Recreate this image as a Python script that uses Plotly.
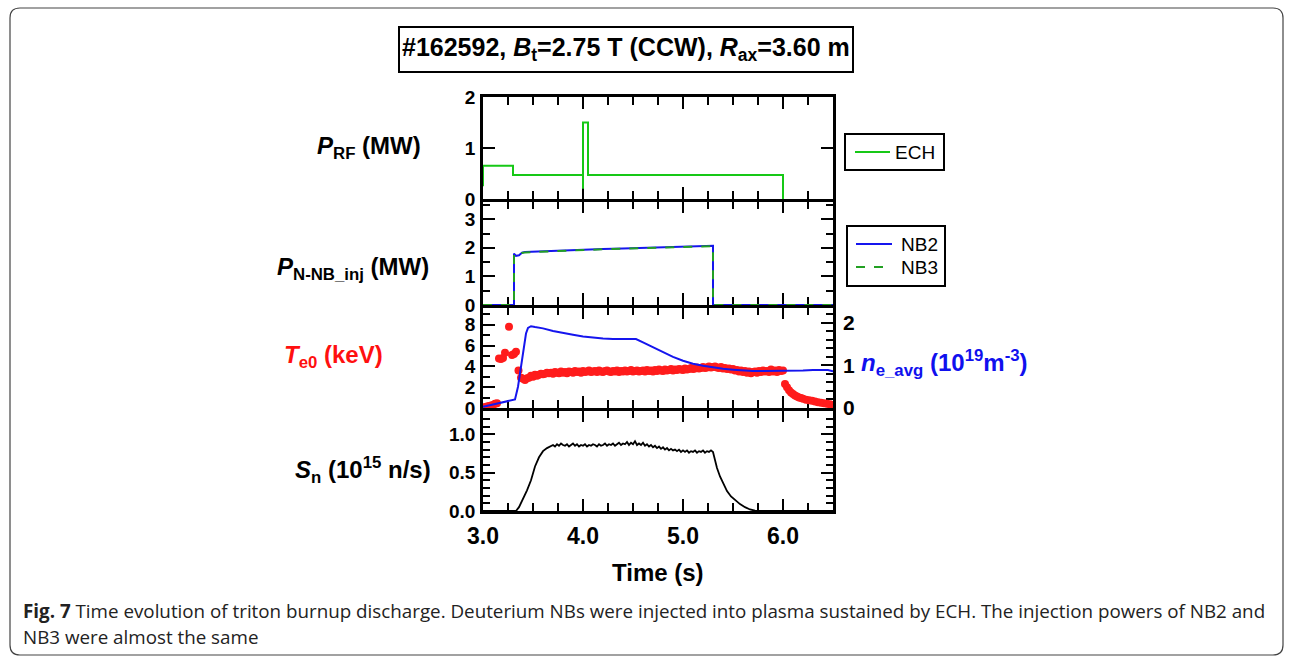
import plotly.graph_objects as go

W, H = 1290, 658
FONT = "Liberation Sans, Arial, sans-serif"

# ---------------- data ----------------
ech_t = [3.0, 3.0, 3.3, 3.3, 4.0, 4.0, 4.0, 4.05, 4.05, 6.0, 6.0]
ech_p = [0.25, 0.65, 0.65, 0.47, 0.47, 0.2, 1.5, 1.5, 0.47, 0.47, 0.0]

nb_t = [3.0, 3.31, 3.31, 3.33, 3.36, 3.39, 3.42, 3.6, 3.8, 4.0, 4.2, 4.4, 4.6, 4.8, 5.0, 5.2, 5.3, 5.3, 6.5]
nb2_p = [0, 0, 1.80, 1.72, 1.74, 1.83, 1.85, 1.88, 1.91, 1.94, 1.96, 1.98, 2.00, 2.02, 2.04, 2.06, 2.07, 0, 0]
nb3_p = [0, 0, 1.75, 1.70, 1.73, 1.82, 1.84, 1.87, 1.90, 1.93, 1.95, 1.97, 1.99, 2.01, 2.03, 2.05, 2.06, 0, 0]

te_t_early = [3.00, 3.02, 3.04, 3.06, 3.08, 3.10, 3.12, 3.14, 3.16, 3.18, 3.20, 3.22, 3.26,
              3.29, 3.31, 3.33, 3.355, 3.38, 3.40, 3.42, 3.44, 3.46]
te_early = [0.0, 0.1, 0.15, 0.2, 0.25, 0.3, 0.4, 0.45, 4.75, 4.7, 4.8, 5.3, 7.8,
            5.1, 5.2, 5.4, 3.6, 2.9, 2.8, 2.7, 2.85, 2.9]
# 3.48 .. 6.00 every 0.02 s
te_mid = [3.1, 3.0, 3.2, 3.1, 3.2, 3.3, 3.25, 3.3, 3.4, 3.35, 3.4, 3.3, 3.45, 3.4, 3.35, 3.5,
          3.4, 3.45, 3.35, 3.5, 3.45, 3.4, 3.55, 3.45, 3.5, 3.4, 3.55, 3.45, 3.5, 3.6, 3.45, 3.5,
          3.55, 3.45, 3.6, 3.5, 3.45, 3.55, 3.6, 3.5, 3.45, 3.55, 3.5, 3.6, 3.45, 3.55, 3.5, 3.6,
          3.5, 3.55, 3.65, 3.5, 3.55, 3.6, 3.5, 3.55, 3.6, 3.5, 3.65, 3.55, 3.6, 3.5, 3.65, 3.55,
          3.7, 3.6, 3.55, 3.7, 3.6, 3.65, 3.75, 3.6, 3.7, 3.65, 3.75, 3.7, 3.65, 3.8, 3.7, 3.75,
          3.85, 3.75, 3.8, 3.9, 3.8, 3.85, 3.95, 3.85, 3.9, 4.0, 3.9, 3.95, 4.0, 3.9, 3.85, 3.95,
          3.8, 3.85, 3.75, 3.8, 3.7, 3.75, 3.6, 3.65, 3.5, 3.6, 3.45, 3.55, 3.4, 3.5, 3.35, 3.45,
          3.5, 3.4, 3.55, 3.45, 3.6, 3.5, 3.55, 3.45, 3.7, 3.5, 3.6, 3.45, 3.65, 3.55, 3.6]
te_t_mid = [round(3.48 + 0.02 * i, 2) for i in range(len(te_mid))]
te_t_late = [6.02, 6.04, 6.06, 6.08, 6.10, 6.12, 6.14, 6.16, 6.18, 6.20, 6.23, 6.26, 6.29,
             6.32, 6.35, 6.38, 6.41, 6.44, 6.47, 6.50]
te_late = [2.3, 2.0, 1.7, 1.5, 1.35, 1.2, 1.1, 1.0, 0.95, 0.9, 0.8, 0.75, 0.7,
           0.62, 0.55, 0.5, 0.45, 0.4, 0.35, 0.3]
te_t = te_t_early + te_t_mid + te_t_late
te_v = te_early + te_mid + te_late

ne_t = [3.0, 3.1, 3.2, 3.3, 3.32, 3.35, 3.38, 3.41, 3.43, 3.45, 3.48, 3.52, 3.56, 3.6, 3.7, 3.8,
        3.9, 4.0, 4.1, 4.2, 4.3, 4.4, 4.5, 4.53, 4.6, 4.7, 4.8, 4.9, 5.0, 5.1, 5.2, 5.3, 5.4,
        5.5, 5.6, 5.7, 5.8, 5.9, 6.0, 6.1, 6.2, 6.3, 6.4, 6.45, 6.5]
ne_v = [0.03, 0.08, 0.13, 0.18, 0.2, 0.5, 0.95, 1.45, 1.75, 1.88, 1.92, 1.9, 1.89, 1.87, 1.81,
        1.76, 1.72, 1.68, 1.65, 1.63, 1.62, 1.62, 1.63, 1.62, 1.54, 1.43, 1.32, 1.2, 1.11, 1.04,
        0.99, 0.95, 0.92, 0.9, 0.88, 0.87, 0.87, 0.87, 0.87, 0.87, 0.88, 0.89, 0.9, 0.89, 0.86]

sn_t_rise = [3.0, 3.33, 3.36, 3.40, 3.44, 3.48, 3.52, 3.56, 3.60, 3.64, 3.68]
sn_rise = [0.0, 0.0, 0.05, 0.15, 0.27, 0.4, 0.58, 0.7, 0.78, 0.82, 0.85]
# 3.70 .. 5.30 every 0.02 s
sn_flat = [0.86, 0.84, 0.87, 0.85, 0.88, 0.86, 0.85, 0.87, 0.84, 0.86, 0.88, 0.85, 0.87, 0.84,
           0.86, 0.85, 0.87, 0.84, 0.86, 0.85, 0.87, 0.86, 0.84, 0.87, 0.85, 0.86, 0.88, 0.85,
           0.87, 0.86, 0.88, 0.85, 0.87, 0.89, 0.86, 0.88, 0.87, 0.90, 0.86, 0.89, 0.87, 0.91,
           0.86, 0.88, 0.86, 0.89, 0.85, 0.87, 0.84, 0.86, 0.83, 0.85, 0.82, 0.84, 0.81, 0.83,
           0.80, 0.82, 0.79, 0.81, 0.79, 0.80, 0.78, 0.80, 0.77, 0.79, 0.77, 0.79, 0.76, 0.78,
           0.77, 0.79, 0.76, 0.78, 0.77, 0.79, 0.76, 0.78, 0.77, 0.79, 0.77]
sn_t_flat = [round(3.70 + 0.02 * i, 2) for i in range(len(sn_flat))]
sn_t_fall = [5.32, 5.34, 5.37, 5.40, 5.44, 5.48, 5.52, 5.57, 5.62, 5.67, 5.72, 5.76, 6.5]
sn_fall = [0.65, 0.56, 0.45, 0.36, 0.26, 0.19, 0.14, 0.09, 0.05, 0.02, 0.005, 0.0, 0.0]
sn_t = sn_t_rise + sn_t_flat + sn_t_fall
sn_v = sn_rise + sn_flat + sn_fall

x_ticks = [3, 4, 5, 6]

# ---------------- helpers ----------------
def X(px):
    return px / W


def Y(py):
    return 1 - py / H


GREEN = "#16c816"
BLUE = "#1515ee"
DGREEN = "#22a022"
RED = "#ff1c1c"

fig = go.Figure()
fig.add_trace(go.Scatter(x=ech_t, y=ech_p, mode="lines", line=dict(color=GREEN, width=2),
                         xaxis="x", yaxis="y", showlegend=False))
fig.add_trace(go.Scatter(x=nb_t, y=nb2_p, mode="lines", line=dict(color=BLUE, width=2),
                         xaxis="x2", yaxis="y2", showlegend=False))
fig.add_trace(go.Scatter(x=nb_t, y=nb3_p, mode="lines", line=dict(color=DGREEN, width=2, dash="dash"),
                         xaxis="x2", yaxis="y2", showlegend=False))
fig.add_trace(go.Scatter(x=ne_t, y=ne_v, mode="lines", line=dict(color=BLUE, width=2),
                         xaxis="x3", yaxis="y5", showlegend=False))
fig.add_trace(go.Scatter(x=te_t, y=te_v, mode="markers", marker=dict(color=RED, size=8),
                         xaxis="x3", yaxis="y3", showlegend=False, cliponaxis=True))
fig.add_trace(go.Scatter(x=sn_t, y=sn_v, mode="lines", line=dict(color="black", width=1.8),
                         xaxis="x4", yaxis="y4", showlegend=False))

XDOM = [X(483), X(833)]
tickfont_y = dict(family=FONT, size=19, color="black", weight="bold")


def xaxis(anchor, labels):
    d = dict(range=[3, 6.5], domain=XDOM, anchor=anchor, showline=True, linecolor="black",
             linewidth=2.5, mirror="ticks", ticks="inside", ticklen=12, tickwidth=2,
             tickcolor="black", tickmode="array", tickvals=x_ticks, showgrid=False,
             zeroline=False, layer="below traces", automargin=False,
             minor=dict(dtick=0.25, tick0=3, ticks="inside", ticklen=8, tickwidth=2,
                        tickcolor="black", showgrid=False),
             showticklabels=labels)
    if labels:
        d.update(tickformat=".1f", tickfont=dict(family=FONT, size=23, color="black", weight="bold"),
                 ticklabelstandoff=3)
    return d


def yaxis(dom, rng, dtick, minor, fmt=None, mirror="ticks"):
    d = dict(domain=[Y(dom[1]), Y(dom[0])], range=rng, dtick=dtick, tick0=0, showline=True,
             linecolor="black", linewidth=2.5, mirror=mirror, ticks="inside", ticklen=12,
             tickwidth=2, tickcolor="black", showgrid=False, zeroline=False,
             layer="below traces", tickfont=tickfont_y, ticklabelstandoff=1, automargin=False)
    if minor:
        d["minor"] = dict(dtick=minor, tick0=0, ticks="inside", ticklen=7, tickwidth=2,
                          tickcolor="black", showgrid=False)
    if fmt:
        d["tickformat"] = fmt
    return d


layout = dict(
    width=W, height=H, autosize=False,
    margin=dict(l=0, r=0, t=0, b=0, pad=0, autoexpand=False),
    paper_bgcolor="white", plot_bgcolor="white", showlegend=False,
    xaxis=xaxis("y", False), xaxis2=xaxis("y2", False), xaxis3=xaxis("y3", False),
    xaxis4=xaxis("y4", True),
    yaxis=yaxis((97, 199), [0, 2], 1, None),
    yaxis2=yaxis((201.5, 305), [0, 3.62], 1, 0.5),
    yaxis3=yaxis((307.5, 408), [0, 9.66], 2, 1, mirror=False),
    yaxis4=yaxis((410.5, 511), [0, 1.31], 0.5, 0.1, fmt=".1f"),
)
layout["yaxis"]["anchor"] = "x"
layout["yaxis2"]["anchor"] = "x2"
layout["yaxis3"]["anchor"] = "x3"
layout["yaxis4"]["anchor"] = "x4"
y5 = yaxis((307.5, 408), [0, 2.36], 1, 0.2, mirror=False)
y5.update(overlaying="y3", side="right", anchor="x3",
          tickfont=dict(family=FONT, size=21, color="black", weight="bold"), ticklabelstandoff=3)
layout["yaxis5"] = y5
fig.update_layout(**layout)

# ---------------- decorations ----------------
shapes = []
# outer rounded frame
x0, x1, y0, y1, r = 10, 1283, 8, 655, 10
path = (f"M {X(x0 + r)},{Y(y0)} L {X(x1 - r)},{Y(y0)} Q {X(x1)},{Y(y0)} {X(x1)},{Y(y0 + r)} "
        f"L {X(x1)},{Y(y1 - r)} Q {X(x1)},{Y(y1)} {X(x1 - r)},{Y(y1)} "
        f"L {X(x0 + r)},{Y(y1)} Q {X(x0)},{Y(y1)} {X(x0)},{Y(y1 - r)} "
        f"L {X(x0)},{Y(y0 + r)} Q {X(x0)},{Y(y0)} {X(x0 + r)},{Y(y0)} Z")
shapes.append(dict(type="path", path=path, xref="paper", yref="paper",
                   line=dict(color="#444", width=1.2)))
# title box
shapes.append(dict(type="rect", xref="paper", yref="paper", x0=X(399), x1=X(853), y0=Y(72), y1=Y(27),
                   line=dict(color="black", width=2)))
# legend boxes
shapes.append(dict(type="rect", xref="paper", yref="paper", x0=X(845), x1=X(944), y0=Y(170), y1=Y(134),
                   line=dict(color="black", width=2), fillcolor="white"))
shapes.append(dict(type="line", xref="paper", yref="paper", x0=X(855), x1=X(890), y0=Y(152), y1=Y(152),
                   line=dict(color=GREEN, width=2)))
shapes.append(dict(type="rect", xref="paper", yref="paper", x0=X(847), x1=X(945), y0=Y(286), y1=Y(226),
                   line=dict(color="black", width=2), fillcolor="white"))
shapes.append(dict(type="line", xref="paper", yref="paper", x0=X(856), x1=X(892), y0=Y(244), y1=Y(244),
                   line=dict(color=BLUE, width=2)))
shapes.append(dict(type="line", xref="paper", yref="paper", x0=X(856), x1=X(892), y0=Y(267), y1=Y(267),
                   line=dict(color=DGREEN, width=2, dash="dash")))
fig.update_layout(shapes=shapes)

ann = []


def text(s, px, py, size, color="black", xanchor="center", family=FONT):
    ann.append(dict(text=s, x=X(px), y=Y(py), xref="paper", yref="paper", showarrow=False,
                    xanchor=xanchor, yanchor="middle", align="left",
                    font=dict(family=family, size=size, color=color)))


text("<b>#162592, <i>B</i><sub>t</sub>=2.75 T (CCW), <i>R</i><sub>ax</sub>=3.60 m</b>", 626, 49, 25)
text("<b><i>P</i><sub>RF</sub> (MW)</b>", 423, 148, 24, xanchor="right")
text("<b><i>P</i><sub>N-NB_inj</sub> (MW)</b>", 431, 268, 24, xanchor="right")
text("<b><i>T</i><sub>e0</sub> (keV)</b>", 385, 357, 24, color="#ff1010", xanchor="right")
text("<b><i>S</i><sub>n</sub> (10<sup>15</sup> n/s)</b>", 433, 470, 24, xanchor="right")
text("<b><i>n</i><sub>e_avg</sub> (10<sup>19</sup>m<sup>-3</sup>)</b>", 859, 363, 24, color="#1010ee",
     xanchor="left")
text("<b>Time (s)</b>", 658, 572, 24)
text("ECH", 893, 152, 19, xanchor="left")
text("NB2", 899, 244, 19, xanchor="left")
text("NB3", 899, 267, 19, xanchor="left")
text("<b>Fig. 7</b> Time evolution of triton burnup discharge. Deuterium NBs were injected into plasma "
     "sustained by ECH. The injection powers of NB2 and", 21, 611, 18.8, color="#222",
     xanchor="left", family="Open Sans")
text("NB3 were almost the same", 21, 637, 18.8, color="#222", xanchor="left", family="Open Sans")
fig.update_layout(annotations=ann)

fig.write_html("out.html",
               post_script="document.body.style.margin='0';document.body.style.overflow='hidden';")
